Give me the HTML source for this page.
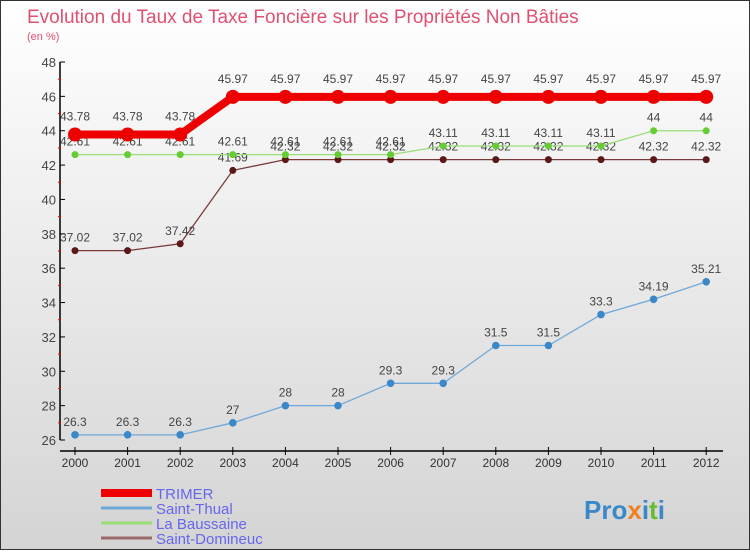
<!DOCTYPE html>
<html><head><meta charset="utf-8"><style>
body{margin:0;width:750px;height:550px;overflow:hidden;font-family:"Liberation Sans",sans-serif}
#wrap{position:relative;width:748px;height:548px;border:1px solid #333;background:linear-gradient(#ffffff,#d4d4d4)}
</style></head><body>
<div id="wrap">
<svg id="chart" width="748" height="548"></svg>
</div>
<script>
const years=[2000,2001,2002,2003,2004,2005,2006,2007,2008,2009,2010,2011,2012];
const trimer=[43.78,43.78,43.78,45.97,45.97,45.97,45.97,45.97,45.97,45.97,45.97,45.97,45.97];
const thual=[26.3,26.3,26.3,27,28,28,29.3,29.3,31.5,31.5,33.3,34.19,35.21];
const baussaine=[42.61,42.61,42.61,42.61,42.61,42.61,42.61,43.11,43.11,43.11,43.11,44,44];
const domineuc=[37.02,37.02,37.42,41.69,42.32,42.32,42.32,42.32,42.32,42.32,42.32,42.32,42.32];
const yTicks=[26,28,30,32,34,36,38,40,42,44,46,48];
const NS="http://www.w3.org/2000/svg";
const svg=document.getElementById('chart');
const X=i=>74+i*52.6;
const Y=v=>439-(v-26)*(378/22);
function el(t,a,p){const e=document.createElementNS(NS,t);for(const k in a)e.setAttribute(k,a[k]);(p||svg).appendChild(e);return e;}
function txt(x,y,s,size,fill,anchor){const e=el('text',{x:x,y:y,'font-size':size,fill:fill,'text-anchor':anchor||'middle'});e.textContent=s;return e;}
const t1=txt(26,22,'Evolution du Taux de Taxe Foncière sur les Propriétés Non Bâties',19,'#e05070','start');


const t2=txt(26,39,'(en %)',11,'#e05070','start');


const ya=el('line',{x1:59,y1:Y(48),x2:59,y2:Y(26),stroke:'#000','stroke-width':1.5});


yTicks.forEach(v=>{el('line',{x1:59,x2:64,y1:Y(v),y2:Y(v),stroke:'#000'});
const t=txt(55,Y(v)+5,String(v),13,'#444','end');


if(v<48)el('line',{x1:57,x2:60,y1:Y(v+1),y2:Y(v+1),stroke:'#e00'});});
const xa=el('line',{x1:59,y1:450,x2:722,y2:450,stroke:'#000','stroke-width':1.5});


years.forEach((y,i)=>{el('line',{x1:X(i),x2:X(i),y1:446,y2:454,stroke:'#000'});
const t=txt(X(i),466,String(y),12,'#333');

});
function series(data,color,dot,w,r,name,labelDy){
 const g=el('g',{});
 
 
 el('polyline',{points:data.map((v,i)=>X(i)+','+Y(v)).join(' '),fill:'none',stroke:color,'stroke-width':w},g);
 data.forEach((v,i)=>{const c=el('circle',{cx:X(i),cy:Y(v),r:r,fill:dot},g);
 
 
 const t=txt(X(i),Y(v)+labelDy,String(v),12,'#444');
 
 });
}
series(domineuc,'#7a3a3a','#5a1818',1.3,3.5,'saint-domineuc-series',-9);
series(baussaine,'#99dd77','#66cc33',1.3,3.5,'la-baussaine-series',-9);
series(thual,'#6fa8d8','#3a88c8',1.3,3.8,'saint-thual-series',-9);
series(trimer,'#ee0000','#ee0000',8,7,'trimer-series',-14);
const leg=[['TRIMER','#ee0000',8],['Saint-Thual','#6fa8d8',3],['La Baussaine','#99dd77',3],['Saint-Domineuc','#9a6a6a',3]];
leg.forEach((l,i)=>{const g=el('g',{});
 
 
 const yy=492+i*15;
 el('line',{x1:100,x2:151,y1:yy,y2:yy,stroke:l[1],'stroke-width':l[2]},g);
 const t=txt(155,yy+6,l[0],15,'#6666ee','start');g.appendChild(t);});
const lg=el('text',{x:583,y:518,'font-size':26,'font-weight':'bold','text-anchor':'start'});


[['Pro','#3a88c8'],['x','#f08020'],['i','#3a88c8'],['t','#66bb33'],['i','#3a88c8']].forEach(p=>{const s=el('tspan',{fill:p[1]},lg);s.textContent=p[0];});
</script>
</body></html>
